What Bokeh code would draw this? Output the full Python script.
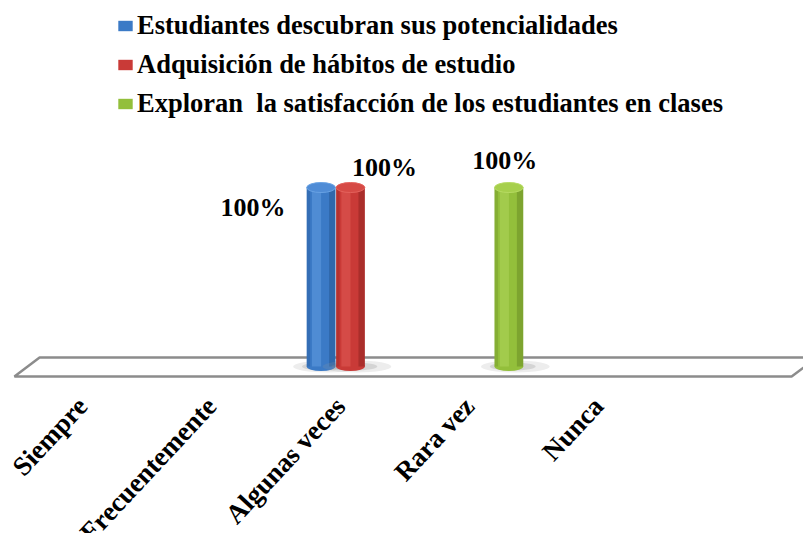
from bokeh.plotting import figure
from bokeh.models import Range1d, Legend, LegendItem
from bokeh.core.properties import value
from bokeh.embed import file_html
from bokeh.resources import INLINE

# ---------------- data ----------------
categories = ["Siempre", "Frecuentemente", "Algunas veces", "Rara vez", "Nunca"]
series_names = [
    "Estudiantes descubran sus potencialidades",
    "Adquisición de hábitos de estudio",
    "Exploran  la satisfacción de los estudiantes en clases",
]
estudiantes_descubran = [0, 0, 100, 0, 0]
adquisicion_habitos = [0, 0, 100, 0, 0]
exploran_satisfaccion = [0, 0, 0, 100, 0]
series_values = [estudiantes_descubran, adquisicion_habitos, exploran_satisfaccion]

# ---------------- style ----------------
FONT = "Liberation Serif"
W, H = 803, 533
palette = [
    # base, light, dark, cap
    ("#3b7ac6", "#68a2e4", "#275996", "#4f8cd6"),
    ("#c93a37", "#e4625c", "#8f2523", "#d64a45"),
    ("#93bf3b", "#b6da62", "#6c8e27", "#a6cf4c"),
]
slot_offsets = [-0.228, 0.0, 0.228]
bar_w = 0.222
# data label offsets (screen px) per series: (dx, dy)
label_offsets = [(-68, 20), (34, -20), (-4, -27)]

p = figure(
    width=W, height=H, output_backend="svg", toolbar_location=None,
    x_range=Range1d(-0.713, 5.512), y_range=Range1d(-93.3, 204.5),
    x_axis_location=None, y_axis_location=None,
    min_border=0, min_border_left=0, min_border_right=0,
    min_border_top=0, min_border_bottom=0,
)
p.grid.visible = False
p.outline_line_color = None
p.background_fill_color = "white"
p.border_fill_color = "white"

# ---------------- 3D floor (parallelogram) ----------------
n = len(categories)
front_l, front_r = -0.605, n - 0.5 + 0.92
skew = 0.195
depth = 5.3
p.patch(
    x=[front_l, front_r, front_r + skew, front_l + skew],
    y=[-depth - 0.3, -depth - 0.3, depth - 0.3, depth - 0.3],
    fill_color="white", line_color="#8c8c8c", line_width=2.5,
)

legend_items = []
for s, (name, vals) in enumerate(zip(series_names, series_values)):
    base, light, dark, cap = palette[s]
    idx = [i for i, v in enumerate(vals) if v > 0]
    xs = [i + slot_offsets[s] for i in idx]
    tops = [vals[i] for i in idx]
    zeros = [0] * len(idx)

    # soft shadow on floor
    p.ellipse(x=[x + 0.05 for x in xs], y=zeros, width=bar_w * 2.4, height=12,
              height_units="screen", fill_color="#9a9a9a", fill_alpha=0.18, line_color=None)
    p.ellipse(x=[x + 0.03 for x in xs], y=zeros, width=bar_w * 1.6, height=8,
              height_units="screen", fill_color="#8a8a8a", fill_alpha=0.25, line_color=None)

    # cylinder bottom
    p.ellipse(x=xs, y=zeros, width=bar_w, height=9, height_units="screen",
              fill_color=base, line_color=None)
    # cylinder body
    body = p.vbar(x=xs, top=tops, bottom=0, width=bar_w,
                  fill_color=base, line_color=None)
    # shading strips
    p.vbar(x=[x - 0.035 for x in xs], top=tops, bottom=0, width=bar_w * 0.32,
           fill_color=light, fill_alpha=0.45, line_color=None)
    p.vbar(x=[x + bar_w * 0.39 for x in xs], top=tops, bottom=0, width=bar_w * 0.22,
           fill_color=dark, fill_alpha=0.55, line_color=None)
    p.vbar(x=[x - bar_w * 0.44 for x in xs], top=tops, bottom=0, width=bar_w * 0.12,
           fill_color=dark, fill_alpha=0.35, line_color=None)
    # cylinder top cap
    p.ellipse(x=xs, y=tops, width=bar_w, height=10, height_units="screen",
              fill_color=cap, line_color=light, line_width=1)

    # data labels
    dx, dy = label_offsets[s]
    p.text(x=xs, y=tops, text=[f"{v}%" for v in tops], x_offset=dx, y_offset=dy,
           text_font=value(FONT), text_font_style="bold", text_font_size="26px",
           text_color="black", text_align="center", text_baseline="middle")

    legend_items.append(LegendItem(label=name, renderers=[body]))

# ---------------- category labels (front edge of floor) ----------------
p.text(x=list(range(n)), y=[0] * n, text=categories, angle=0.82,
       x_offset=-10, y_offset=35,
       text_font=value(FONT), text_font_style="bold", text_font_size="27px",
       text_color="black", text_align="right", text_baseline="middle")

# ---------------- legend ----------------
legend = Legend(
    items=legend_items, location=(116, 414), orientation="vertical",
    label_text_font=FONT, label_text_font_style="bold", label_text_font_size="26.5px",
    label_text_color="black",
    glyph_width=18, glyph_height=13, label_standoff=3, spacing=8,
    padding=0, margin=0, border_line_color=None, background_fill_alpha=0,
)
p.add_layout(legend)

open("out.html", "w").write(file_html(p, INLINE))
